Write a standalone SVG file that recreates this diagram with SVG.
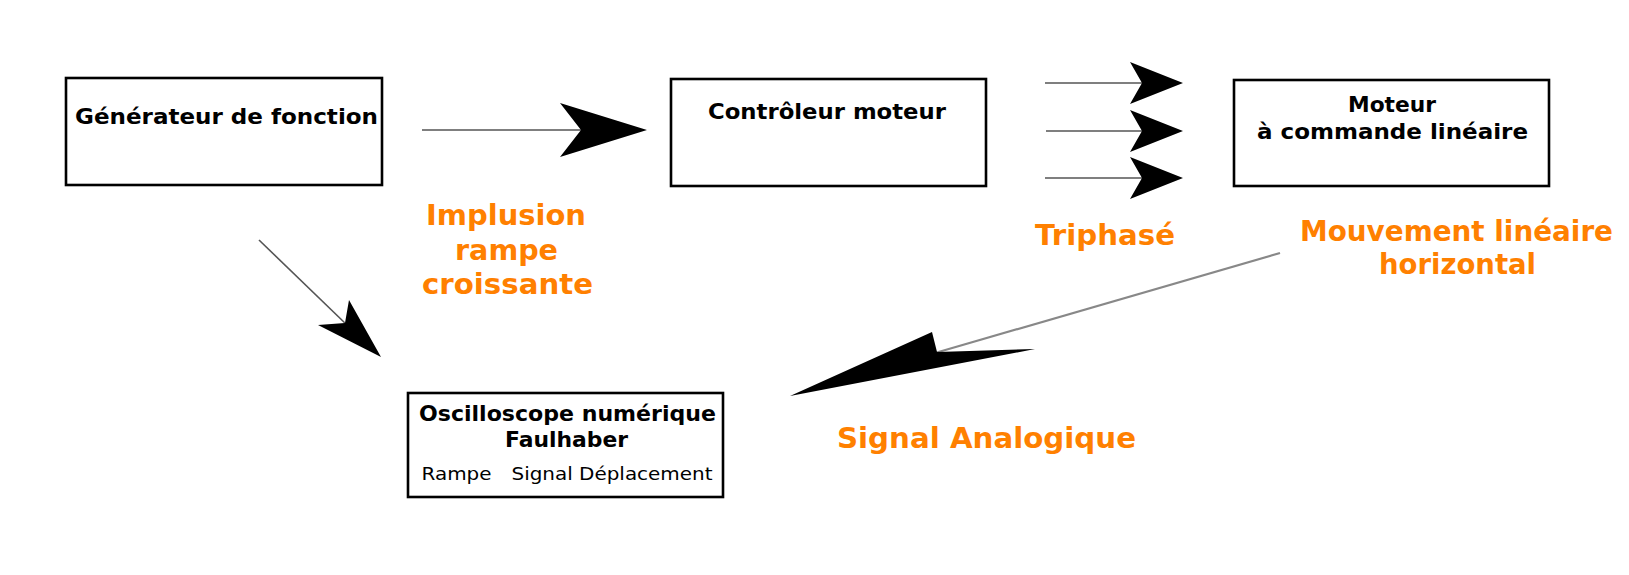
<svg xmlns="http://www.w3.org/2000/svg" width="1629" height="575" viewBox="0 0 1629 575">
<style>
.box{fill:#fff;stroke:#000;stroke-width:2.6}
.t{font-family:"DejaVu Sans",sans-serif;font-weight:bold;font-size:21px;fill:#000}
.r{font-family:"DejaVu Sans",sans-serif;font-size:18.5px;fill:#000}
.o{font-family:"DejaVu Sans",sans-serif;font-weight:bold;font-size:28.5px;fill:#ff8000}
.ln{stroke:#555;stroke-width:1.6;fill:none}
.ln2{stroke:#888;stroke-width:2.2;fill:none}
.head{fill:#000}
</style>
<defs>
<path id="ah3" d="M0,0 L-53,-21 L-41,0 L-53,21 Z"/>
</defs>
<rect width="1629" height="575" fill="#fff"/>

<g id="generateur">
<rect class="box" x="66" y="78" width="316" height="107"/>
<text class="t" x="75" y="124" textLength="303" lengthAdjust="spacingAndGlyphs">Générateur de fonction</text>
</g>

<g id="controleur">
<rect class="box" x="671" y="79" width="315" height="107"/>
<text class="t" x="708" y="119" textLength="238" lengthAdjust="spacingAndGlyphs">Contrôleur moteur</text>
</g>

<g id="moteur">
<rect class="box" x="1234" y="80" width="315" height="106"/>
<text class="t" x="1348" y="112" textLength="88" lengthAdjust="spacingAndGlyphs">Moteur</text>
<text class="t" x="1257" y="139" textLength="271" lengthAdjust="spacingAndGlyphs">à commande linéaire</text>
</g>

<g id="oscilloscope">
<rect class="box" x="408" y="393" width="315" height="104"/>
<text class="t" x="419" y="421" textLength="297" lengthAdjust="spacingAndGlyphs">Oscilloscope numérique</text>
<text class="t" x="505" y="447" textLength="123" lengthAdjust="spacingAndGlyphs">Faulhaber</text>
<text class="r" x="421.5" y="480" textLength="70" lengthAdjust="spacingAndGlyphs">Rampe</text>
<text class="r" x="511.5" y="480" textLength="201" lengthAdjust="spacingAndGlyphs">Signal Déplacement</text>
</g>

<g id="labels">
<text class="o" x="426" y="225" textLength="160" lengthAdjust="spacingAndGlyphs">Implusion</text>
<text class="o" x="455" y="260" textLength="103" lengthAdjust="spacingAndGlyphs">rampe</text>
<text class="o" x="422" y="294" textLength="171" lengthAdjust="spacingAndGlyphs">croissante</text>
<text class="o" x="1035" y="245" textLength="140" lengthAdjust="spacingAndGlyphs">Triphasé</text>
<text class="o" x="1300" y="241" textLength="313" lengthAdjust="spacingAndGlyphs">Mouvement linéaire</text>
<text class="o" x="1379" y="274" textLength="157" lengthAdjust="spacingAndGlyphs">horizontal</text>
<text class="o" x="837" y="448" textLength="299" lengthAdjust="spacingAndGlyphs">Signal Analogique</text>
</g>

<g id="connectors">
<line class="ln" x1="422" y1="130" x2="584" y2="130"/>
<path class="head" d="M647,130 L560,103 L581,130 L560,157 Z"/>

<line class="ln" x1="1045" y1="83" x2="1145" y2="83"/>
<use href="#ah3" class="head" x="1183" y="83"/>
<line class="ln" x1="1046" y1="131" x2="1145" y2="131"/>
<use href="#ah3" class="head" x="1183" y="131"/>
<line class="ln" x1="1045" y1="178" x2="1145" y2="178"/>
<use href="#ah3" class="head" x="1183" y="178"/>

<line class="ln" x1="259" y1="240" x2="347" y2="325"/>
<path class="head" d="M381,357 L349,300 L345,323 L318,325 Z"/>

<line class="ln2" x1="1280" y1="253" x2="935" y2="353"/>
<path class="head" d="M790,396 L932,332 L937,352 L1035,349 Z"/>
</g>
</svg>
